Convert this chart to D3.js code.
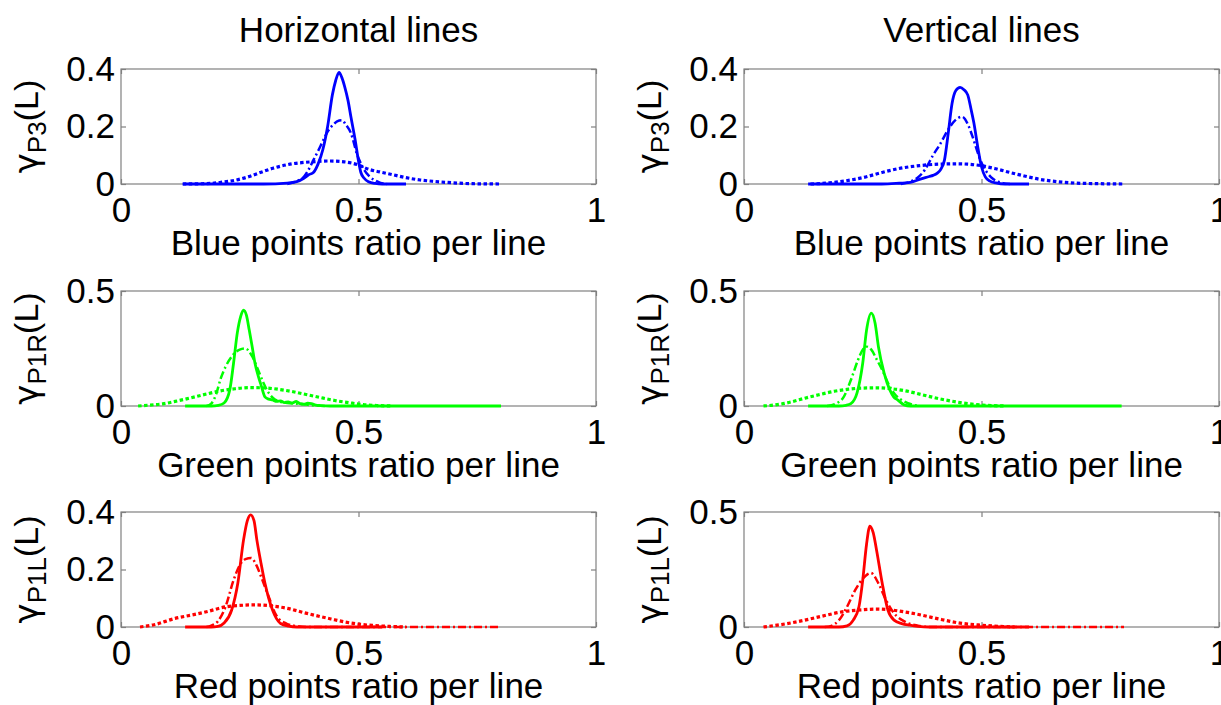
<html>
<head>
  <title> </title>
  <script src="https://d3js.org/d3.v7.min.js"></script>
  <style>
  body { margin: 0; background: white; }
  text { font-family: "Liberation Sans", Arial, sans-serif; fill: black; }
  .box { fill: none; stroke: #808080; stroke-width: 1.2px; }
  .axis path { display: none; }
  .axis line { stroke: #808080; stroke-width: 1.2px; }
  .axis text { font-size: 35px; }
  .curve { fill: none; }
</style>
</head>
<body>
  <svg id="fig" width="1221" height="705"></svg>
  <script>

// column titles, axis labels, ticks
const colTitles = ["Horizontal lines", "Vertical lines"];
const xLabels = ["Blue points ratio per line", "Green points ratio per line", "Red points ratio per line"];
const ySubs = ["P3", "P1R", "P1L"];
const xTicks = [0, 0.5, 1];
const yTicksH = [[0, 0.2, 0.4], [0, 0.5], [0, 0.2, 0.4]];
const yTicksV = [[0, 0.2, 0.4], [0, 0.5], [0, 0.5]];
const colors = ["#0000ff", "#00ff00", "#ff0000"];

// horizontal lines, blue
const hBlueSolid = [[0.13,0],[0.30,0],[0.35,0.003],[0.37,0.008],[0.385,0.02],[0.395,0.032],[0.405,0.04],[0.415,0.07],[0.425,0.12],[0.435,0.2],[0.445,0.31],[0.452,0.36],[0.459,0.388],[0.465,0.37],[0.471,0.338],[0.478,0.29],[0.484,0.234],[0.493,0.153],[0.50,0.08],[0.505,0.04],[0.512,0.02],[0.521,0.008],[0.535,0.002],[0.55,0],[0.6,0]];
const hBlueDashDot = [[0.35,0],[0.37,0.01],[0.385,0.025],[0.395,0.05],[0.405,0.083],[0.415,0.115],[0.426,0.153],[0.436,0.185],[0.446,0.205],[0.455,0.218],[0.465,0.222],[0.474,0.205],[0.484,0.177],[0.49,0.145],[0.496,0.108],[0.504,0.075],[0.512,0.049],[0.522,0.028],[0.533,0.014],[0.545,0.005],[0.56,0]];
const hBlueDotted = [[0.13,0],[0.19,0.002],[0.21,0.006],[0.24,0.013],[0.27,0.026],[0.29,0.038],[0.32,0.055],[0.36,0.07],[0.40,0.077],[0.44,0.08],[0.47,0.077],[0.50,0.066],[0.52,0.052],[0.545,0.042],[0.57,0.033],[0.60,0.022],[0.63,0.014],[0.66,0.009],[0.70,0.004],[0.74,0.001],[0.8,0]];

// vertical lines, blue
const vBlueSolid = [[0.135,0],[0.29,0],[0.32,0.002],[0.35,0.006],[0.373,0.018],[0.39,0.026],[0.398,0.03],[0.407,0.038],[0.414,0.05],[0.422,0.083],[0.43,0.177],[0.438,0.28],[0.446,0.325],[0.455,0.336],[0.463,0.328],[0.471,0.31],[0.478,0.26],[0.484,0.212],[0.492,0.13],[0.5,0.06],[0.508,0.025],[0.518,0.01],[0.53,0.004],[0.55,0],[0.6,0]];
const vBlueDashDot = [[0.33,0],[0.35,0.008],[0.364,0.02],[0.381,0.05],[0.398,0.1],[0.414,0.142],[0.43,0.19],[0.445,0.222],[0.459,0.234],[0.472,0.205],[0.48,0.17],[0.488,0.13],[0.496,0.09],[0.504,0.06],[0.514,0.035],[0.524,0.018],[0.535,0.008],[0.545,0.003],[0.56,0]];
const vBlueDotted = [[0.14,0],[0.18,0.004],[0.21,0.01],[0.25,0.022],[0.29,0.04],[0.33,0.055],[0.37,0.064],[0.41,0.069],[0.45,0.07],[0.49,0.066],[0.53,0.053],[0.56,0.04],[0.59,0.028],[0.62,0.017],[0.66,0.008],[0.70,0.003],[0.75,0.001],[0.8,0]];

// horizontal lines, green
const hGreenSolid = [[0.135,0],[0.19,0],[0.205,0.003],[0.217,0.013],[0.229,0.07],[0.237,0.187],[0.245,0.32],[0.252,0.39],[0.258,0.417],[0.264,0.395],[0.27,0.33],[0.276,0.26],[0.282,0.187],[0.289,0.13],[0.295,0.09],[0.303,0.04],[0.311,0.03],[0.319,0.026],[0.328,0.02],[0.336,0.022],[0.344,0.015],[0.352,0.018],[0.36,0.013],[0.369,0.02],[0.377,0.01],[0.385,0.008],[0.393,0.012],[0.401,0.01],[0.41,0.004],[0.42,0.002],[0.44,0],[0.8,0]];
const hGreenDashDot = [[0.18,0],[0.19,0.01],[0.2,0.05],[0.21,0.12],[0.22,0.17],[0.235,0.22],[0.25,0.245],[0.262,0.25],[0.275,0.22],[0.29,0.15],[0.30,0.1],[0.31,0.06],[0.32,0.035],[0.33,0.022],[0.35,0.013],[0.37,0.01],[0.39,0.006],[0.41,0.002],[0.43,0]];
const hGreenDotted = [[0.036,0],[0.06,0.004],[0.09,0.01],[0.114,0.02],[0.14,0.032],[0.18,0.052],[0.21,0.066],[0.24,0.075],[0.27,0.08],[0.30,0.079],[0.33,0.073],[0.36,0.063],[0.39,0.05],[0.426,0.034],[0.45,0.024],[0.484,0.013],[0.51,0.006],[0.54,0.002],[0.57,0]];

// vertical lines, green
const vGreenSolid = [[0.135,0],[0.2,0],[0.215,0.003],[0.225,0.01],[0.238,0.057],[0.25,0.187],[0.258,0.33],[0.268,0.404],[0.276,0.36],[0.283,0.258],[0.295,0.143],[0.307,0.07],[0.315,0.04],[0.324,0.026],[0.337,0.005],[0.35,0],[0.795,0]];
const vGreenDashDot = [[0.175,0],[0.193,0.01],[0.21,0.04],[0.225,0.113],[0.24,0.2],[0.25,0.245],[0.258,0.258],[0.268,0.245],[0.28,0.2],[0.291,0.157],[0.307,0.084],[0.32,0.045],[0.332,0.026],[0.345,0.012],[0.357,0.005],[0.37,0]];
const vGreenDotted = [[0.041,0],[0.07,0.006],[0.1,0.018],[0.128,0.034],[0.16,0.05],[0.19,0.064],[0.22,0.073],[0.25,0.078],[0.28,0.079],[0.31,0.075],[0.34,0.066],[0.373,0.05],[0.41,0.032],[0.455,0.015],[0.49,0.006],[0.52,0.002],[0.55,0]];

// horizontal lines, red
const hRedSolid = [[0.135,0],[0.19,0],[0.204,0.002],[0.217,0.014],[0.233,0.059],[0.246,0.153],[0.258,0.303],[0.266,0.37],[0.273,0.39],[0.28,0.37],[0.286,0.303],[0.295,0.22],[0.303,0.153],[0.311,0.1],[0.319,0.059],[0.327,0.03],[0.336,0.012],[0.353,0.003],[0.37,0],[0.55,0]];
const hRedDashDot = [[0.18,0],[0.19,0.005],[0.204,0.02],[0.22,0.07],[0.237,0.163],[0.25,0.215],[0.262,0.236],[0.274,0.24],[0.285,0.215],[0.295,0.175],[0.311,0.105],[0.327,0.04],[0.348,0.012],[0.37,0.003],[0.39,0],[0.8,0]];
const hRedDotted = [[0.04,0],[0.07,0.008],[0.114,0.03],[0.15,0.042],[0.18,0.053],[0.22,0.07],[0.25,0.075],[0.28,0.077],[0.319,0.073],[0.35,0.065],[0.385,0.05],[0.41,0.04],[0.442,0.028],[0.47,0.018],[0.5,0.01],[0.535,0.005],[0.566,0.002],[0.6,0]];

// vertical lines, red
const vRedSolid = [[0.135,0],[0.2,0],[0.217,0.005],[0.23,0.03],[0.242,0.088],[0.25,0.204],[0.258,0.36],[0.265,0.439],[0.272,0.41],[0.279,0.335],[0.291,0.19],[0.303,0.074],[0.316,0.03],[0.332,0.015],[0.349,0.008],[0.366,0.003],[0.39,0],[0.6,0]];
const vRedDashDot = [[0.17,0],[0.184,0.005],[0.2,0.03],[0.217,0.088],[0.234,0.16],[0.25,0.21],[0.267,0.235],[0.283,0.19],[0.299,0.117],[0.316,0.06],[0.34,0.022],[0.366,0.006],[0.39,0],[0.8,0]];
const vRedDotted = [[0.041,0],[0.07,0.008],[0.1,0.018],[0.128,0.03],[0.16,0.045],[0.21,0.067],[0.25,0.075],[0.28,0.078],[0.31,0.074],[0.34,0.065],[0.373,0.052],[0.41,0.035],[0.455,0.017],[0.5,0.008],[0.537,0.003],[0.57,0]];

const seriesH = [[hBlueSolid, hBlueDashDot, hBlueDotted], [hGreenSolid, hGreenDashDot, hGreenDotted], [hRedSolid, hRedDashDot, hRedDotted]];
const seriesV = [[vBlueSolid, vBlueDashDot, vBlueDotted], [vGreenSolid, vGreenDashDot, vGreenDotted], [vRedSolid, vRedDashDot, vRedDotted]];

// line styles: solid, dash-dot, dotted
const styles = [
  { width: 2.8, dash: null },
  { width: 2.5, dash: "8,3,2,3" },
  { width: 3.2, dash: "3.5,2.5" }
];

const svg = d3.select("#fig");
const colLeft = [121, 744];
const plotW = 475, plotH = 115;
const rowTop = [69, 291, 512];

for (let c = 0; c < 2; c++) {
  const x0 = colLeft[c];
  svg.append("text")
    .attr("x", x0 + plotW / 2).attr("y", rowTop[0] - 27)
    .attr("text-anchor", "middle").style("font-size", "35px")
    .text(colTitles[c]);

  for (let r = 0; r < 3; r++) {
    const y0 = rowTop[r];
    const yt = c == 0 ? yTicksH[r] : yTicksV[r];
    const data = c == 0 ? seriesH[r] : seriesV[r];
    const g = svg.append("g").attr("transform", "translate(" + x0 + "," + y0 + ")");

    const x = d3.scaleLinear().domain([0, 1]).range([0, plotW]);
    const y = d3.scaleLinear().domain([0, d3.max(yt)]).range([plotH, 0]);
    const fmt = d => d3.format("~g")(d);

    g.append("g").attr("class", "axis").attr("transform", "translate(0," + plotH + ")")
      .call(d3.axisBottom(x).tickValues(xTicks).tickFormat(fmt).tickSizeInner(-5).tickSizeOuter(0).tickPadding(13));
    g.append("g").attr("class", "axis")
      .call(d3.axisTop(x).tickValues(xTicks).tickFormat("").tickSizeInner(-5).tickSizeOuter(0));
    g.append("g").attr("class", "axis")
      .call(d3.axisLeft(y).tickValues(yt).tickFormat(fmt).tickSizeInner(-5).tickSizeOuter(0).tickPadding(6));
    g.append("g").attr("class", "axis").attr("transform", "translate(" + plotW + ",0)")
      .call(d3.axisRight(y).tickValues(yt).tickFormat("").tickSizeInner(-5).tickSizeOuter(0));

    g.append("rect").attr("class", "box")
      .attr("x", 0).attr("y", 0).attr("width", plotW).attr("height", plotH);

    const line = d3.line()
      .x(d => x(d[0])).y(d => y(d[1]))
      .curve(d3.curveMonotoneX);

    data.forEach((s, i) => {
      g.append("path").attr("class", "curve")
        .attr("d", line(s))
        .attr("stroke", colors[r])
        .attr("stroke-width", styles[i].width)
        .attr("stroke-dasharray", styles[i].dash);
    });

    // x label
    g.append("text")
      .attr("x", plotW / 2).attr("y", plotH + 71)
      .attr("text-anchor", "middle").style("font-size", "35px")
      .text(xLabels[r]);

    // y label gamma_sub(L)
    const yl = g.append("text")
      .attr("transform", "translate(-83," + (plotH / 2) + ") rotate(-90)")
      .attr("text-anchor", "middle").style("font-size", "34px");
    yl.append("tspan").style("font-family", "'DejaVu Sans'").text("\u03b3");
    yl.append("tspan").attr("dy", 8).style("font-size", "26px").text(ySubs[r]);
    yl.append("tspan").attr("dy", -8).text("(L)");
  }
}
    </script>
    </body>
    </html>
